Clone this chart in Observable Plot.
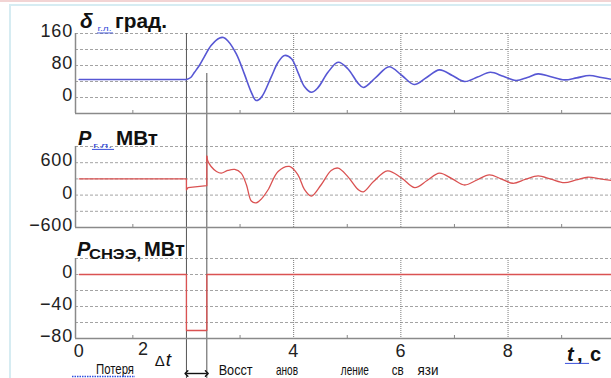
<!DOCTYPE html>
<html>
<head>
<meta charset="utf-8">
<script src="https://cdn.jsdelivr.net/npm/d3@7"></script>
<script src="https://cdn.jsdelivr.net/npm/@observablehq/plot@0.6"></script>
<style>
  html, body { margin: 0; padding: 0; background: #fff; }
  #wrap { position: relative; width: 611px; height: 378px; overflow: hidden; background: #fff; }
  #wrap svg { position: absolute; left: 0; }
  .pinkline { position: absolute; left: 0; top: 0; width: 611px; height: 2px; background: #f2d4d4; }
  .frameline { position: absolute; left: 9px; top: 4px; width: 640px; height: 400px;
               border-left: 2px solid #d6ecf2; border-top: 2px solid #d6ecf2; }
  #wrap [aria-label="y-axis tick label"] text { letter-spacing: 0.8px; }
  #wrap [aria-label="x-axis tick label"] text { letter-spacing: 0.8px; }
</style>
</head>
<body>
<div id="wrap"><div class="pinkline"></div><div class="frameline"></div></div>
<script>
// ---------- data ----------
const faultT = 2.0;     // КЗ
const clearT = 2.38;    // восстановление связи

// δ г.л., град.
const deltaTime  = [0, 1.0, 1.95, 2.0, 2.08, 2.15, 2.24, 2.33, 2.46, 2.62, 2.69, 2.77, 2.93, 3.08, 3.21, 3.30, 3.40, 3.58, 3.71, 3.83, 3.96, 4.08, 4.20, 4.33, 4.45, 4.64, 4.83, 5.01, 5.20, 5.30, 5.54, 5.78, 6.02, 6.25, 6.48, 6.72, 6.96, 7.19, 7.43, 7.67, 7.91, 8.15, 8.36, 8.56, 8.80, 9.05, 9.28, 9.52, 9.74, 9.95];
const deltaValue = [45, 45, 45, 45, 50, 63, 80, 101, 130, 149, 150, 142, 109, 59, 13, -7.5, 1, 51, 88, 105, 97, 63, 27.5, 13, 24, 63, 88, 72, 36, 25, 51, 77, 55, 32.5, 50, 69, 55, 40, 51, 63, 53, 42.5, 50, 59, 52, 44, 49, 55, 50, 45];

// P г.л., МВт (до и во время КЗ)
const pFaultTime  = [0, 2.0, 2.0, 2.03, 2.38, 2.38];
const pFaultValue = [300, 300, 95, 140, 175, 720];
// P г.л., МВт (после восстановления)
const pPostTime  = [2.38, 2.40, 2.46, 2.56, 2.65, 2.77, 2.90, 3.02, 3.12, 3.21, 3.30, 3.40, 3.52, 3.71, 3.92, 4.08, 4.20, 4.33, 4.51, 4.70, 4.83, 5.01, 5.20, 5.30, 5.49, 5.75, 6.01, 6.26, 6.49, 6.72, 6.96, 7.19, 7.42, 7.65, 7.87, 8.09, 8.32, 8.56, 8.80, 9.05, 9.27, 9.49, 9.72, 9.95];
const pPostValue = [720, 625, 530, 437, 406, 456, 475, 406, 187, -110, -144, -70, 94, 437, 531, 375, 106, -19, 187, 456, 500, 343, 106, 60, 250, 450, 320, 137, 270, 406, 300, 187, 280, 375, 300, 219, 290, 356, 295, 231, 280, 331, 300, 268];

// P СНЭЭ, МВт
const sneTime  = [0, 2.0, 2.0, 2.38, 2.38, 9.95];
const sneValue = [0, 0, -70, -70, 0, 0];

// axes
const xDomain = [-0.07, 9.93];
const xTickLabels = [0, 4, 6, 8];
const xShiftedLabel = [2];
const xGrid = [4, 6, 8];
const xMinor = [1, 3, 5, 7, 9];

const deltaDomain = [-40, 160], deltaGrid = [0, 40, 80, 120, 160], deltaTicks = [0, 80, 160];
const pDomain = [-600, 900],    pGrid = [-300, 0, 300, 600, 900],  pTicks = [-600, 0, 600];
const sneDomain = [-80, 20],    sneGrid = [-60, -40, -20, 0, 20],  sneTicks = [-80, -40, 0];

// text
const title1 = ["δ", "г.л.", "град."];
const title2 = ["P", "г.л.", "МВт"];
const title3 = ["P", "СНЭЭ,", "МВт"];
const xTitle = ["t", ",", "с"];
const noteLoss = "Потеря";
const noteDt = ["Δ", "t"];
const noteRestore = ["Восст", "анов", "ление", "св", "язи"];
const noteRestoreT = [2.61, 3.68, 4.89, 5.84, 6.32];

// ---------- drawing ----------
const rows = (ts, vs) => ts.map((t, i) => ({t, v: vs[i]}));
const BLUE = "#5757d4", RED = "#da5252";
const FONT = "'Liberation Sans', Arial, Helvetica, sans-serif";

function panel(o) {
  const yMin = o.yDomain[0];
  const marks = [
    Plot.gridY(o.grid, {stroke: "#a3a3a3", strokeOpacity: 1, strokeDasharray: "3,2"}),
    Plot.gridX(xGrid, {stroke: "#7a7a7a", strokeOpacity: 1, strokeDasharray: "1,1"}),
    Plot.ruleX([faultT], {stroke: "#555", strokeWidth: 1, insetTop: o.faultTop, insetBottom: -o.mb}),
    Plot.ruleX([clearT], {stroke: "#555", strokeWidth: 1, insetTop: o.clearTop, insetBottom: -o.mb}),
    ...o.lines,
    Plot.ruleX(xMinor, {y1: yMin, y2: yMin, insetTop: -3, stroke: "#888"}),
    Plot.ruleX([xDomain[0]], {stroke: "#8a8a8a", strokeWidth: 1.5}),
    Plot.ruleY([yMin], {stroke: "#8a8a8a", strokeWidth: 1.6}),
    Plot.axisY(o.ticks, {tickSize: 0, tickPadding: 2.5, fontSize: 18, dy: -2, fill: "#222", label: null}),
    ...(o.xaxis
      ? [Plot.axisX(xTickLabels, {tickSize: 0, tickPadding: 6, fontSize: 18, fill: "#222", label: null}),
         Plot.axisX(xShiftedLabel, {tickSize: 0, tickPadding: 4, fontSize: 18, fill: "#222", dx: -43, label: null})]
      : [Plot.axisX([], {label: null})])
  ];
  const chart = Plot.plot({
    width: 611, height: o.height,
    marginLeft: 75, marginRight: 0, marginTop: o.mt, marginBottom: o.mb,
    x: {domain: xDomain, label: null},
    y: {domain: o.yDomain, label: null},
    style: {fontFamily: FONT, background: "transparent", overflow: "visible", color: "#222"},
    marks
  });
  chart.style.top = o.top + "px";
  return chart;
}

const wrap = document.getElementById("wrap");

const p1 = panel({
  top: 0, height: 130, mt: 33, mb: 17, yDomain: deltaDomain, grid: deltaGrid, ticks: deltaTicks,
  faultTop: 0, clearTop: 40,
  lines: [Plot.line(rows(deltaTime, deltaValue), {x: "t", y: "v", stroke: BLUE, strokeWidth: 1.6, curve: "catmull-rom"})]
});
const p2 = panel({
  top: 130, height: 115, mt: 16, mb: 18, yDomain: pDomain, grid: pGrid, ticks: pTicks,
  faultTop: -16, clearTop: -16,
  lines: [
    Plot.line(rows(pFaultTime, pFaultValue), {x: "t", y: "v", stroke: RED, strokeWidth: 1.3}),
    Plot.line(rows(pPostTime, pPostValue), {x: "t", y: "v", stroke: RED, strokeWidth: 1.3, curve: "catmull-rom"})
  ]
});
const p3 = panel({
  top: 245, height: 133, mt: 13, mb: 40, yDomain: sneDomain, grid: sneGrid, ticks: sneTicks,
  faultTop: -13, clearTop: -13, xaxis: true,
  lines: [
    Plot.line(rows(sneTime, sneValue), {x: "t", y: "v", stroke: RED, strokeWidth: 1.3}),
    Plot.link([0], {x1: () => faultT, x2: () => clearT, y1: () => sneDomain[0], y2: () => sneDomain[0],
      dy: 35, stroke: "#111", strokeWidth: 1.4, markerStart: "arrow-reverse", markerEnd: "arrow"})
  ]
});
wrap.append(p1, p2, p3);

// ---------- overlay: titles and notes ----------
const xs = p3.scale("x");
const ov = d3.select(wrap).append("svg")
  .attr("width", 611).attr("height", 378)
  .style("top", "0px").style("left", "0px").style("overflow", "visible")
  .attr("font-family", FONT).attr("fill", "#111");

function txt(s, x, y, size, o = {}) {
  const t = ov.append("text").attr("x", x).attr("y", y).attr("font-size", size).text(s);
  if (o.bold) t.attr("font-weight", "bold");
  if (o.italic) t.attr("font-style", "italic");
  if (o.fill) t.attr("fill", o.fill);
  if (o.len) t.attr("textLength", o.len).attr("lengthAdjust", "spacingAndGlyphs");
  return t;
}
function wavy(x0, x1, y) {
  let d = `M${x0},${y}`;
  for (let x = x0; x < x1; x += 2) d += " l1,-1.1 l1,1.1";
  ov.append("path").attr("d", d).attr("fill", "none").attr("stroke", "#3248d8").attr("stroke-width", 0.9);
}
const SUB = "#3248d8";

// panel 1 title
txt(title1[0], 80, 28, 21, {bold: true, italic: true});
txt(title1[1], 97.5, 31, 8, {fill: SUB, len: 14});
wavy(97, 112, 33.5);
txt(title1[2], 115, 28, 20, {bold: true, len: 52});

// panel 2 title
txt(title2[0], 78, 145, 20, {bold: true, italic: true});
txt(title2[1], 93, 148, 8, {fill: SUB, len: 19});
wavy(92, 113, 150);
txt(title2[2], 116, 145, 20, {bold: true, len: 42});

// panel 3 title
txt(title3[0], 77, 256, 20, {bold: true, italic: true});
txt(title3[1], 89, 259, 15, {bold: true, len: 52});
txt(title3[2], 144, 256, 20, {bold: true, len: 41});

// x title
txt(xTitle[0], 567, 361, 20, {bold: true, italic: true});
txt(xTitle[1], 577, 361, 20, {bold: true});
txt(xTitle[2], 590, 361, 20, {bold: true});
wavy(565, 588, 364);

// bottom notes
txt(noteLoss, 96, 374, 15, {len: 38});
ov.append("line").attr("x1", 72).attr("x2", 135).attr("y1", 376.5).attr("y2", 376.5)
  .attr("stroke", "#3050e0").attr("stroke-width", 1.6).attr("stroke-dasharray", "1.5,1");
txt(noteDt[0], xs.apply(1.42), 366, 15);
txt(noteDt[1], xs.apply(1.42) + 11, 366, 19, {italic: true});
noteRestore.forEach((s, i) => txt(s, xs.apply(noteRestoreT[i]), 375, 15, {len: [34, 22, 28, 12, 21][i]}));
</script>
</body>
</html>
